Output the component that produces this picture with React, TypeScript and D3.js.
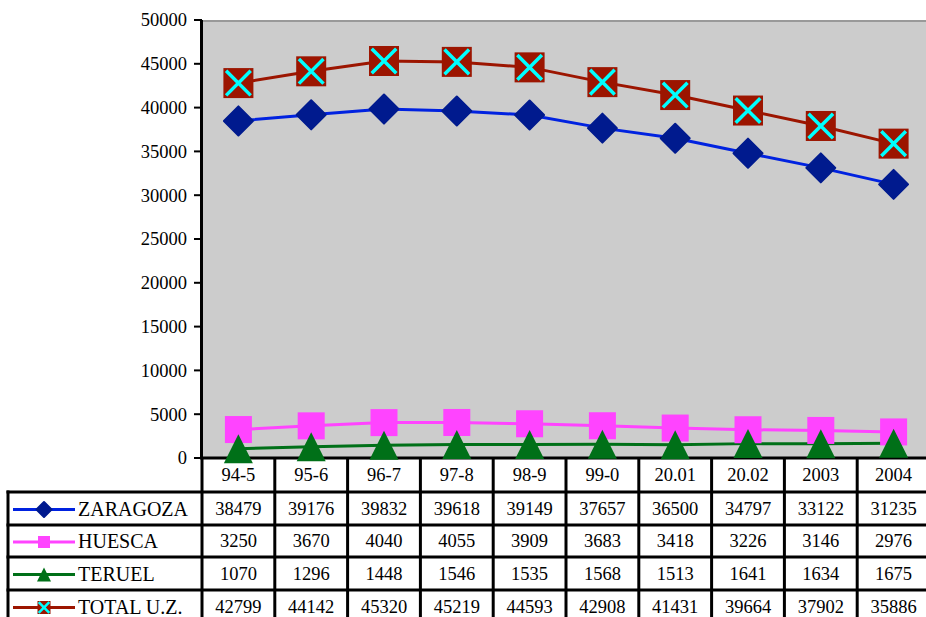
import React from "react";
import * as d3 from "d3";

const categories = ["94-5", "95-6", "96-7", "97-8", "98-9", "99-0", "20.01", "20.02", "2003", "2004"];
const zaragoza = [38479, 39176, 39832, 39618, 39149, 37657, 36500, 34797, 33122, 31235];
const huesca = [3250, 3670, 4040, 4055, 3909, 3683, 3418, 3226, 3146, 2976];
const teruel = [1070, 1296, 1448, 1546, 1535, 1568, 1513, 1641, 1634, 1675];
const totalUZ = [42799, 44142, 45320, 45219, 44593, 42908, 41431, 39664, 37902, 35886];
const yTicks = [0, 5000, 10000, 15000, 20000, 25000, 30000, 35000, 40000, 45000, 50000];
const seriesNames = ["ZARAGOZA", "HUESCA", "TERUEL", "TOTAL U.Z."];

type Series = { name: string; values: number[]; line: string; marker: string; kind: string };

const series: Series[] = [
  { name: seriesNames[0], values: zaragoza, line: "#0022e0", marker: "#001a8e", kind: "diamond" },
  { name: seriesNames[1], values: huesca, line: "#ff44ff", marker: "#ff44ff", kind: "square" },
  { name: seriesNames[2], values: teruel, line: "#007018", marker: "#007018", kind: "triangle" },
  { name: seriesNames[3], values: totalUZ, line: "#9c1500", marker: "#9c1500", kind: "xsquare" },
];

const W = 926;
const H = 617;
const plotLeft = 202;
const plotRight = 930;
const plotTop = 20;
const plotBottom = 458;
const tableLeft = 8;
const rowEdges = [458, 492, 525, 557, 590, 623];
const FONT = "Liberation Serif, Tinos, DejaVu Serif, Times New Roman, serif";

function Marker({ kind, x, y, size, color }: { kind: string; x: number; y: number; size: number; color: string }) {
  const h = size / 2;
  if (kind === "diamond") {
    return <path d={`M${x},${y - h}L${x + h},${y}L${x},${y + h}L${x - h},${y}Z`} fill={color} stroke={color} strokeLinejoin="round" strokeWidth={2} />;
  }
  if (kind === "square") {
    return <rect x={x - h} y={y - h} width={size} height={size} fill={color} />;
  }
  if (kind === "triangle") {
    return <path d={`M${x},${y - h}L${x + h},${y + h}L${x - h},${y + h}Z`} fill={color} />;
  }
  const k = h * 0.82;
  return (
    <g>
      <rect x={x - h} y={y - h} width={size} height={size} fill={color} />
      <path d={`M${x - k},${y - k}L${x + k},${y + k}M${x + k},${y - k}L${x - k},${y + k}`} stroke="#00ffff" strokeWidth={size > 20 ? 3.5 : 2.5} />
    </g>
  );
}

export default function App() {
  const x = d3.scaleBand<string>().domain(categories).range([plotLeft, plotRight]).padding(0);
  const y = d3.scaleLinear().domain([0, 50000]).range([plotBottom, plotTop]);
  const cx = (c: string) => (x(c) ?? 0) + x.bandwidth() / 2;
  const lineGen = d3
    .line<number>()
    .x((_, i) => cx(categories[i]))
    .y((v) => y(v));

  const markerSize: Record<string, number> = { diamond: 29, square: 27, triangle: 29, xsquare: 30 };
  const legendSize: Record<string, number> = { diamond: 15, square: 12, triangle: 14, xsquare: 13 };
  const textStyle = { fontFamily: FONT };

  return (
    <div style={{ position: "fixed", left: 0, top: 0 }}>
      <svg width={W} height={H} style={{ display: "block", background: "#fff" }}>
        {/* plot area */}
        <rect x={plotLeft} y={plotTop} width={plotRight - plotLeft} height={plotBottom - plotTop} fill="#cccccc" />
        <line x1={plotLeft} x2={plotRight} y1={plotTop + 1} y2={plotTop + 1} stroke="#999999" strokeWidth={2} />

        {/* y axis */}
        {yTicks.map((t) => (
          <g key={t}>
            <line x1={194} x2={plotLeft} y1={y(t)} y2={y(t)} stroke="#000" strokeWidth={2} />
            <text x={187} y={y(t)} dy="0.35em" textAnchor="end" style={textStyle} fontSize={18.5} fill="#000">
              {t}
            </text>
          </g>
        ))}
        <line x1={plotLeft - 0.5} x2={plotLeft - 0.5} y1={plotTop} y2={plotBottom} stroke="#000" strokeWidth={3} />

        {/* table grid */}
        <line x1={plotLeft - 2} x2={W} y1={rowEdges[0]} y2={rowEdges[0]} stroke="#000" strokeWidth={3} />
        {rowEdges.slice(1, 5).map((r) => (
          <line key={r} x1={tableLeft - 1.5} x2={W} y1={r} y2={r} stroke="#000" strokeWidth={3} />
        ))}
        <line x1={tableLeft} x2={tableLeft} y1={rowEdges[1] - 1.5} y2={H} stroke="#000" strokeWidth={3} />
        {categories.map((c) => (
          <line key={c} x1={x(c) ?? 0} x2={x(c) ?? 0} y1={rowEdges[0]} y2={H} stroke="#000" strokeWidth={3} />
        ))}

        {/* header labels */}
        {categories.map((c) => (
          <text key={c} x={cx(c)} y={(rowEdges[0] + rowEdges[1]) / 2} dy="0.35em" textAnchor="middle" style={textStyle} fontSize={18.5} fill="#000">
            {c}
          </text>
        ))}

        {/* table rows */}
        {series.map((s, si) => {
          const rc = (rowEdges[si + 1] + rowEdges[si + 2]) / 2;
          return (
            <g key={s.name}>
              <line x1={13} x2={75} y1={rc + 1} y2={rc + 1} stroke={s.line} strokeWidth={3} />
              <Marker kind={s.kind} x={44} y={rc + 1} size={legendSize[s.kind]} color={s.marker} />
              <text x={78} y={rc} dy="0.35em" style={textStyle} fontSize={20} fill="#000">
                {s.name}
              </text>
              {s.values.map((v, i) => (
                <text key={i} x={cx(categories[i])} y={rc} dy="0.35em" textAnchor="middle" style={textStyle} fontSize={18.5} fill="#000">
                  {v}
                </text>
              ))}
            </g>
          );
        })}

        {/* series lines */}
        {series.map((s) => (
          <path key={s.name} d={lineGen(s.values) ?? ""} fill="none" stroke={s.line} strokeWidth={3} />
        ))}
        {/* markers */}
        {series.map((s) => (
          <g key={s.name + "m"}>
            {s.values.map((v, i) => (
              <Marker key={i} kind={s.kind} x={cx(categories[i])} y={y(v)} size={markerSize[s.kind]} color={s.marker} />
            ))}
          </g>
        ))}
      </svg>
    </div>
  );
}
